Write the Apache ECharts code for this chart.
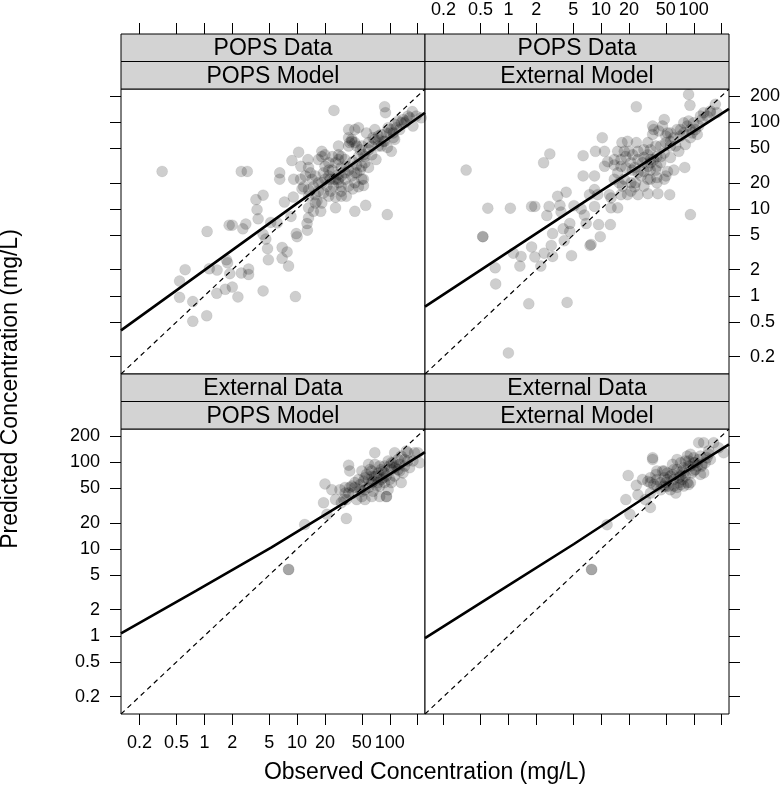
<!DOCTYPE html>
<html>
<head>
<meta charset="utf-8">
<title>Predicted vs Observed Concentration</title>
<script src="https://cdn.jsdelivr.net/npm/echarts@6/dist/echarts.min.js"></script>
<style>
  html, body { margin: 0; padding: 0; background: #fff; }
  #chart { width: 780px; height: 793px; }
</style>
</head>
<body>
<div id="chart"></div>
<script>
// axis range and ticks, mg/L on log10 scale
const axisRange = [0.126, 240]
const tickValues = [0.2, 0.5, 1, 2, 5, 10, 20, 50, 100, 200]
const xLabelValues = [0.2, 0.5, 1, 2, 5, 10, 20, 50, 100]
const yLabelValues = [0.2, 0.5, 1, 2, 5, 10, 20, 50, 100, 200]

// strip labels
const dataStrips = ['POPS Data', 'External Data']
const modelStrips = ['POPS Model', 'External Model']

// [observed, predicted] pairs per panel
const popsDataPopsModel = [
  [0.35, 27], [2.5, 27], [2.9, 27], [25, 136], [88, 150], [90, 128], [175, 132], [178, 90], [139, 107], [218, 112],
  [94, 8.6], [55, 11], [42, 9.4], [26, 10.3], [10.4, 45], [8.8, 36], [6.5, 26], [6.5, 22], [9.2, 22], [11, 31],
  [3.6, 12.8], [4.3, 14.4], [3.7, 9.8], [3.8, 7.7], [1.85, 6.5], [2.0, 6.5], [2.8, 6.7], [2.6, 5.9], [1.07, 5.5], [5.2, 7.0],
  [6.1, 6.9], [4.3, 5.1], [4.6, 4.5], [4.8, 3.5], [6.9, 3.6], [7.8, 3.2], [6.9, 2.7], [8.1, 2.2], [4.9, 2.6], [9.8, 5.2],
  [10, 4.8], [12.9, 5.7], [12.8, 6.8], [13.3, 7.9], [8.6, 8.2], [7.3, 12], [9.1, 13.7], [11.3, 17], [13.3, 10.3], [15, 9.4],
  [18, 9.4], [16.4, 12.3], [0.62, 2.0], [0.54, 1.48], [0.54, 0.96], [0.75, 0.86], [0.75, 0.51], [1.06, 0.59], [1.13, 2.05], [1.37, 1.98],
  [1.36, 1.07], [1.68, 1.19], [2.0, 1.26], [2.3, 0.97], [1.73, 2.6], [1.78, 2.4], [1.88, 1.8], [2.5, 1.83], [3.0, 2.03], [3.0, 1.76],
  [4.3, 1.14], [9.6, 0.98],
  [13.1, 37], [13.9, 26], [14.5, 22], [15.7, 24], [17, 37], [18.5, 46], [20, 42], [22, 34], [24, 28], [26, 22],
  [28, 20], [30, 24], [33, 22], [36, 28], [30, 40], [28, 42], [33, 37], [36, 66], [39, 63], [42, 58],
  [46, 86], [50, 53], [54, 40], [59, 48], [64, 53], [69, 63], [75, 63], [81, 72], [92, 75], [96, 86],
  [104, 82], [113, 63], [113, 94], [123, 103], [145, 98], [104, 46], [94, 51], [71, 37], [54, 34], [52, 22],
  [52, 18.6], [46, 18], [42, 20], [34, 14], [30, 14], [26, 13.7], [22, 14], [19.3, 15.3], [17, 16], [15.7, 14.6],
  [21, 18.3], [18.5, 20], [22.7, 22], [28, 25], [30, 30], [34, 31], [40, 35], [44, 32], [48, 28], [50, 22],
  [37, 58], [46, 40], [42, 82], [75, 53], [64, 42], [22, 28], [19.3, 26], [12.3, 24], [10.9, 22], [15.7, 11.7],
  [11.8, 18], [13.3, 16.6], [24.7, 18.3], [36, 18.3], [39, 24], [44, 26], [59, 30], [81, 53], [88, 60], [109, 66],
  [128, 82], [157, 117], [193, 117],
  [18.5, 40], [20, 31], [22, 24], [25, 22], [28, 22], [30, 18], [36, 53], [39, 60], [44, 53], [48, 48],
  [52, 42], [59, 58], [66, 66], [75, 69], [85, 60], [100, 75], [109, 75], [118, 86], [133, 98], [151, 103],
  [164, 112], [50, 31], [42, 26], [33, 26], [28, 37], [24, 40], [20, 22], [17, 20], [15, 18], [13.3, 14],
  [18.5, 11.7], [23, 16], [30, 16], [40, 17], [36, 82], [56, 75], [69, 82], [28, 53], [26, 34], [13.3, 30]
]
const popsDataExtModel = [
  [0.35, 28], [2.4, 34], [2.8, 43], [0.6, 10.2], [1.05, 10.2], [0.53, 4.8], [0.53, 4.8], [0.72, 2.1], [0.73, 1.37], [1.66, 0.81],
  [4.3, 0.84], [1.0, 0.22], [24, 150], [88, 208], [91, 156], [92, 8.6], [80, 30], [55, 14.6], [41, 15], [32, 15],
  [10.3, 66], [6.4, 41], [8.7, 46], [10.9, 46], [6.4, 24], [8.5, 24], [3.4, 14], [4.2, 15.6], [1.78, 10.7], [1.93, 10.7],
  [2.75, 10.7], [3.6, 11], [2.6, 8.4], [3.7, 9.2], [5.1, 10.9], [6.1, 10], [3.0, 5.2], [3.9, 5.9], [4.6, 6.8], [4.6, 5.5],
  [2.9, 3.8], [4.0, 4.3], [1.78, 3.65], [1.93, 2.8], [1.13, 3.1], [1.37, 2.84], [2.43, 3.1], [3.0, 2.84], [2.24, 2.2], [4.8, 2.9],
  [1.33, 2.2], [7.6, 3.8], [7.8, 3.9], [9.8, 4.8], [9.4, 6.6], [12.6, 6.6], [6.9, 6.8], [6.6, 8.5], [8.5, 10.7], [9.2, 14.6],
  [8.5, 16.7], [7.5, 14.6], [12.8, 10.3], [15.1, 10.3], [12.3, 14.6], [12.8, 13.4],
  [16.8, 58], [19.3, 60], [17.8, 46], [24, 58], [29, 48], [32, 42], [25, 37], [21, 34], [16.4, 31], [13.9, 32],
  [11.8, 35], [10.9, 31], [15.1, 26], [17.8, 22], [21, 20], [25, 26], [29, 27], [34, 22], [32, 31], [37, 37],
  [40, 40], [44, 34], [48, 44], [50, 58], [52, 75], [46, 90], [48, 107], [37, 82], [36, 72], [56, 75],
  [66, 82], [72, 69], [78, 75], [85, 90], [92, 82], [100, 98], [104, 82], [109, 72], [118, 117], [139, 117],
  [171, 160], [178, 128], [69, 46], [61, 28], [52, 27], [40, 31], [34, 28], [16.4, 14.6], [19.3, 14.6], [25, 14.6],
  [21, 16], [17, 18.3], [15.7, 20], [18.5, 30], [21.7, 28], [28, 34], [39, 53], [44, 53], [56, 60], [64, 53],
  [81, 55], [92, 66], [123, 107], [151, 128], [32, 22], [23.5, 20], [29, 18.3], [40, 23], [50, 24], [15.1, 46],
  [13.9, 37], [20, 46], [34, 37], [29, 39],
  [18.5, 40], [22, 42], [23, 30], [27, 24], [34, 34], [39, 28], [44, 40], [50, 69], [56, 53], [61, 66],
  [72, 82], [78, 98], [88, 103], [96, 75], [113, 90], [128, 128], [151, 134], [34, 48], [25, 46], [16.4, 37],
  [13.9, 22], [23, 18], [40, 20], [48, 22], [56, 39], [36, 90], [42, 79], [32, 58]
]
const extDataPopsModel = [
  [8.1, 5.8], [8.1, 5.8], [12.1, 19.1], [21, 25], [19.3, 34], [20, 56], [23.7, 48], [34, 22.4], [36, 92], [37, 79],
  [26, 37], [29, 48], [33, 51], [32, 37], [30, 34], [36, 44], [39, 53], [42, 58], [44, 37], [50, 40],
  [54, 48], [56, 72], [64, 58], [69, 94], [75, 75], [81, 63], [92, 40], [92, 40], [96, 48], [85, 79],
  [88, 90], [96, 103], [104, 82], [109, 98], [113, 128], [123, 107], [128, 94], [133, 58], [139, 75], [157, 128],
  [164, 86], [178, 103], [185, 128], [201, 128], [210, 98], [50, 79], [59, 63], [66, 46], [72, 53], [78, 40],
  [46, 63], [42, 51], [52, 60], [61, 82], [69, 69], [78, 90], [85, 66], [100, 63], [113, 69], [123, 82],
  [145, 107], [151, 134], [69, 128], [59, 94], [54, 37], [64, 40], [104, 58], [88, 58], [75, 58], [64, 69],
  [48, 48], [34, 37], [118, 90], [133, 117],
  [33, 44], [37, 51], [40, 44], [48, 55], [54, 66], [64, 79], [72, 69], [81, 82], [92, 69], [100, 90],
  [113, 86], [128, 79], [145, 90], [78, 53], [66, 60], [59, 51], [50, 46], [104, 98], [88, 75], [157, 103]
]
const extDataExtModel = [
  [7.9, 5.8], [7.9, 5.8], [11.6, 19], [20.5, 25], [18.5, 37], [19.6, 70], [24, 54], [25, 42], [34, 30], [36, 112],
  [36, 107], [30, 37], [28, 63], [34, 66], [39, 72], [32, 60], [40, 53], [48, 66], [52, 75], [50, 58],
  [56, 48], [61, 63], [66, 82], [72, 69], [78, 53], [85, 58], [92, 58], [66, 51], [59, 94], [72, 98],
  [78, 86], [85, 117], [92, 123], [100, 98], [104, 82], [113, 107], [118, 72], [128, 75], [133, 98], [139, 112],
  [151, 107], [113, 167], [128, 167], [164, 167], [185, 146], [210, 128], [88, 90], [96, 75], [100, 112], [48, 79],
  [56, 69], [40, 63], [44, 48], [54, 53], [75, 63], [64, 44], [81, 69], [88, 55], [34, 44], [37, 55],
  [61, 82], [69, 58], [75, 79], [66, 107], [109, 90], [122, 90], [145, 134], [50, 52], [46, 79],
  [34, 58], [44, 58], [52, 63], [59, 72], [69, 66], [78, 75], [92, 90], [104, 98], [88, 103], [118, 117],
  [123, 94], [61, 53], [72, 55], [48, 53], [81, 103], [100, 79], [145, 123], [40, 79]
]

// fitted curves
const popsDataPopsModelFit = [[0.126, 0.4], [10, 11.6], [240, 128]]
const popsDataExtModelFit = [[0.126, 0.75], [10, 16.1], [240, 142]]
const extDataPopsModelFit = [[0.126, 1.07], [0.81, 3.3], [5.3, 10.4], [34, 35], [240, 130]]
const extDataExtModelFit = [[0.126, 0.94], [0.79, 3.25], [5.1, 11.4], [33, 42], [240, 160]]

const panels = [
  { row: 0, col: 0, points: popsDataPopsModel, fit: popsDataPopsModelFit },
  { row: 0, col: 1, points: popsDataExtModel, fit: popsDataExtModelFit },
  { row: 1, col: 0, points: extDataPopsModel, fit: extDataPopsModelFit },
  { row: 1, col: 1, points: extDataExtModel, fit: extDataExtModelFit }
]

// layout
const colLeft = [121, 425]
const rowTop = [89, 429]
const panelW = 304
const panelH = 285
const stripH = 27.5
const font = '"Liberation Sans", Arial, sans-serif'

const lg = Math.log10
const toLog = pts => pts.map(p => [lg(p[0]), lg(p[1])])
const fmt = v => String(parseFloat(Math.pow(10, v).toPrecision(2)))
const identity = [[axisRange[0], axisRange[0]], [axisRange[1], axisRange[1]]]

const grids = []
const xAxes = []
const yAxes = []
const series = []
const graphics = []

panels.forEach((p, i) => {
  // lattice alternates labelled sides: top-right and bottom-left carry labels
  const labelled = (p.row === 0 && p.col === 1) || (p.row === 1 && p.col === 0)
  grids.push({
    left: colLeft[p.col], top: rowTop[p.row], width: panelW, height: panelH,
    show: true, backgroundColor: '#fff', borderColor: '#000', borderWidth: 1,
    outerBoundsMode: 'none', containLabel: false
  })
  xAxes.push({
    gridIndex: i, type: 'value', min: lg(axisRange[0]), max: lg(axisRange[1]),
    position: p.row === 0 ? 'top' : 'bottom',
    offset: p.row === 0 ? stripH * 2 : 0,
    axisLine: { show: false, onZero: false },
    splitLine: { show: false },
    axisTick: { show: true, customValues: tickValues.map(lg), length: 11, lineStyle: { color: '#000', width: 1 } },
    axisLabel: {
      show: labelled, customValues: xLabelValues.map(lg), formatter: fmt,
      margin: p.row === 0 ? 15 : 20, fontSize: 18, color: '#000', fontFamily: font, hideOverlap: false
    }
  })
  yAxes.push({
    gridIndex: i, type: 'value', min: lg(axisRange[0]), max: lg(axisRange[1]),
    position: p.col === 0 ? 'left' : 'right',
    axisLine: { show: false, onZero: false },
    splitLine: { show: false },
    axisTick: { show: true, customValues: tickValues.map(lg), length: 11, lineStyle: { color: '#000', width: 1 } },
    axisLabel: {
      show: labelled, customValues: yLabelValues.map(lg), formatter: fmt,
      margin: 21, fontSize: 18, color: '#000', fontFamily: font, hideOverlap: false
    }
  })
  series.push({
    type: 'scatter', xAxisIndex: i, yAxisIndex: i, data: toLog(p.points),
    symbolSize: 11, clip: true,
    itemStyle: { color: 'rgba(0,0,0,0.24)', borderColor: 'rgba(0,0,0,0.1)', borderWidth: 0.8 },
    z: 2
  })
  series.push({
    type: 'line', xAxisIndex: i, yAxisIndex: i, data: toLog(identity),
    showSymbol: false, clip: true,
    lineStyle: { color: '#000', width: 1.2, type: [5, 4] },
    z: 3
  })
  series.push({
    type: 'line', xAxisIndex: i, yAxisIndex: i, data: toLog(p.fit),
    showSymbol: false, smooth: false, clip: true,
    lineStyle: { color: '#000', width: 2.6 },
    z: 4
  })

  // strips above each panel
  const top = rowTop[p.row] - stripH * 2
  const labels = [dataStrips[p.row], modelStrips[p.col]]
  labels.forEach((label, k) => {
    graphics.push({
      type: 'rect', z: 100,
      shape: { x: colLeft[p.col], y: top + k * stripH, width: panelW, height: stripH },
      style: { fill: '#d3d3d3', stroke: '#000', lineWidth: 1 }
    })
    graphics.push({
      type: 'text', z: 101,
      x: colLeft[p.col] + panelW / 2, y: top + k * stripH + stripH / 2 + 1,
      style: { text: label, fill: '#000', font: '23px ' + font, textAlign: 'center', verticalAlign: 'middle' }
    })
  })
})

// axis titles
graphics.push({
  type: 'text', z: 101, x: colLeft[0] + panelW, y: 773,
  style: { text: 'Observed Concentration (mg/L)', fill: '#000', font: '23px ' + font, textAlign: 'center', verticalAlign: 'middle' }
})
graphics.push({
  type: 'text', z: 101, x: 11, y: 389, rotation: Math.PI / 2,
  style: { text: 'Predicted Concentration (mg/L)', fill: '#000', font: '23px ' + font, textAlign: 'center', verticalAlign: 'middle' }
})

const myChart = echarts.init(document.getElementById('chart'), null, { renderer: 'canvas' })
myChart.setOption({
  animation: false,
  backgroundColor: '#fff',
  grid: grids,
  xAxis: xAxes,
  yAxis: yAxes,
  series: series,
  graphic: graphics
})
</script>
</body>
</html>
